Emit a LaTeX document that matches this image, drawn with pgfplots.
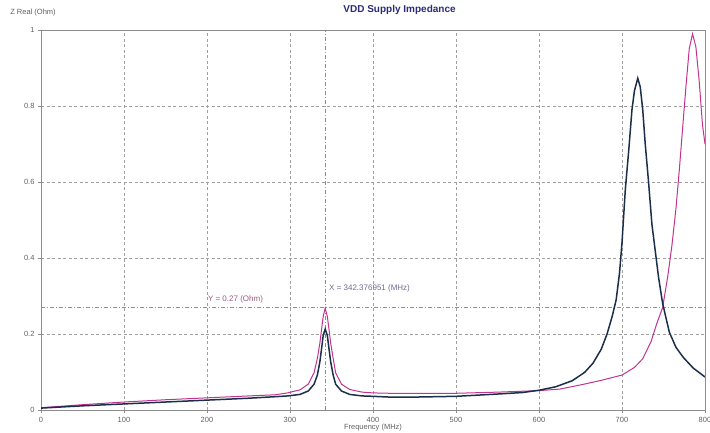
\documentclass[border=0pt]{standalone}
\usepackage{pgfplots}
\pgfplotsset{compat=1.18}
\usepackage{fontspec}
\setmainfont{Liberation Sans}
\definecolor{navyc}{HTML}{1B2F4B}
\definecolor{magc}{HTML}{C2328F}
\definecolor{gridc}{HTML}{A0A0A0}
\definecolor{framec}{HTML}{8C8C8C}
\definecolor{titlec}{HTML}{2B2A7C}
\definecolor{tickc}{HTML}{606060}
\definecolor{ycur}{HTML}{9A5C80}
\definecolor{xcur}{HTML}{6E6A90}
\begin{document}
\begin{tikzpicture}[x=1pt,y=1pt]
\useasboundingbox (0,0) rectangle (710,432);
\begin{axis}[
  at={(41pt,22pt)}, anchor=south west,
  scale only axis, width=664pt, height=380pt,
  xmin=0, xmax=800, ymin=0, ymax=1,
  xtick={0,100,...,800}, ytick={0,0.2,...,1},
  yticklabels={0,0.2,0.4,0.6,0.8,1},
  /pgf/number format/assume math mode=true,
  tick align=outside, major tick length=3pt,
  xtick pos=bottom, ytick pos=left,
  tick style={framec, line width=0.6pt},
  axis line style={framec, line width=0.8pt},
  grid=major,
  major grid style={gridc, line width=0.5pt, dash pattern=on 3pt off 2.5pt},
  ticklabel style={font=\fontsize{7.5}{9}\selectfont, text=tickc},
  xticklabel style={yshift=-1pt},
  every axis title shift=0pt,
  title={\textbf{VDD Supply Impedance}},
  title style={at={(axis description cs:0.54,1.053)}, anchor=center, font=\fontsize{10}{12}\selectfont, text=titlec},
  xlabel={Frequency (MHz)},
  xlabel style={at={(axis description cs:0.5,-0.045)}, anchor=center, font=\fontsize{7.5}{9}\selectfont, text=tickc},
  ylabel={Z Real (Ohm)},
  ylabel style={at={(axis description cs:-0.012,1.045)}, anchor=center, rotate=-90, font=\fontsize{7.5}{9}\selectfont, text=tickc},
  clip=true,
]
% cursor lines
\addplot[ycur!80, line width=0.6pt, dash pattern=on 4pt off 2pt on 1pt off 2pt] coordinates {(0,0.27) (800,0.27)};
\addplot[xcur!80, line width=0.6pt, dash pattern=on 4pt off 2pt on 1pt off 2pt] coordinates {(342.376951,0) (342.376951,1)};
% magenta series
\addplot[magc, line width=1pt] coordinates {
(0,0.006) (50,0.014) (100,0.021) (150,0.027) (200,0.032) (250,0.037) (282,0.040) (297,0.045)
(312,0.053) (322,0.068) (329,0.098) (333,0.136) (336,0.176) (338,0.212) (340,0.246) (342.4,0.268)
(345,0.246) (347,0.212) (349,0.176) (352,0.136) (355,0.098) (362,0.068) (372,0.054) (387,0.047)
(400,0.045) (420,0.044) (450,0.044) (500,0.044) (550,0.047) (600,0.051) (625,0.055) (650,0.066)
(675,0.078) (700,0.092) (715,0.112) (725,0.135) (735,0.180) (742,0.228) (749,0.270) (755,0.350)
(760,0.430) (765,0.530) (769,0.630) (773,0.740) (777,0.850) (781,0.950) (785,0.990) (789,0.956)
(793,0.866) (797,0.750) (800,0.700)
};
% navy series
\addplot[navyc, line width=1.5pt] coordinates {
(0,0.005) (50,0.011) (100,0.016) (150,0.021) (200,0.026) (250,0.031) (282,0.035) (297,0.037)
(312,0.041) (322,0.050) (329,0.068) (333,0.092) (336,0.127) (338,0.161) (340,0.196) (342.4,0.213)
(345,0.196) (347,0.161) (349,0.127) (352,0.092) (355,0.068) (362,0.050) (372,0.041) (387,0.037)
(400,0.036) (420,0.034) (450,0.034) (500,0.036) (550,0.042) (580,0.046) (600,0.052) (620,0.061)
(640,0.077) (655,0.099) (665,0.123) (675,0.160) (682,0.200) (688,0.245) (693,0.290) (697,0.360)
(700,0.440) (704,0.580) (708,0.680) (712,0.790) (715,0.840) (719,0.873) (722,0.850) (725,0.790)
(728,0.700) (732,0.600) (736,0.490) (740,0.420) (744,0.350) (749,0.280) (757,0.205) (765,0.165)
(774,0.138) (786,0.110) (800,0.087)
};
\node[anchor=west, text=ycur, font=\fontsize{8}{10}\selectfont, inner sep=0pt] at (axis cs:201,0.29) {Y = 0.27 (Ohm)};
\node[anchor=west, text=xcur, font=\fontsize{8}{10}\selectfont, inner sep=0pt] at (axis cs:347,0.321) {X = 342.376951 (MHz)};
\end{axis}
\end{tikzpicture}
\end{document}
